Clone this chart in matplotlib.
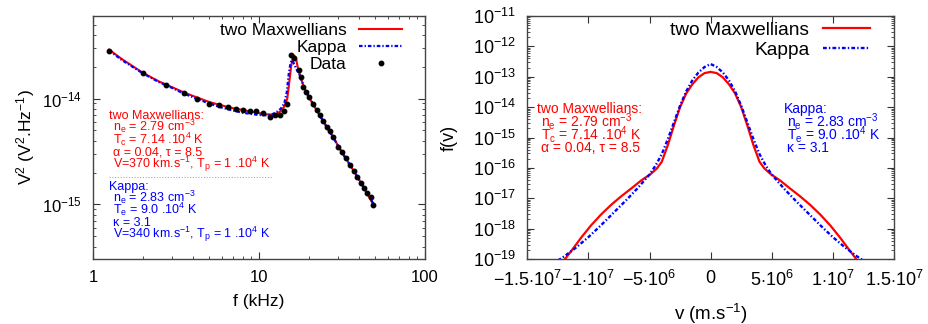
import numpy as np
import matplotlib
matplotlib.use("Agg")
import matplotlib.pyplot as plt
from matplotlib.ticker import LogLocator, FixedLocator, FuncFormatter, NullFormatter

plt.rcParams["font.family"] = ["Liberation Sans", "DejaVu Sans"]
plt.rcParams["mathtext.fontset"] = "custom"
plt.rcParams["mathtext.rm"] = "Liberation Sans"
plt.rcParams["mathtext.it"] = "Liberation Sans"
plt.rcParams["mathtext.bf"] = "Liberation Sans:bold"

# ---------------- left panel: spectrum V^2(f) ----------------
data_f = [1.25, 1.99, 2.75, 3.53, 4.25, 5.02, 5.77, 6.53, 7.27, 8.05, 8.83, 9.55,
          10.5, 11.6, 12.5, 13.4, 14.1, 14.8, 15.5, 16.3, 17.3, 17.8, 18.5, 19.2,
          20.1, 21.1, 22.2, 23.3, 24.4, 25.6, 26.8, 28.1, 30.0, 31.5, 33.4, 35.3,
          37.4, 39.1, 41.0, 42.9, 44.5, 47.1, 48.8]
data_v2 = [2.84e-14, 1.73e-14, 1.35e-14, 1.12e-14, 9.87e-15, 8.9e-15, 8.65e-15,
           8.4e-15, 8.05e-15, 7.88e-15, 7.7e-15, 7.6e-15, 7.27e-15, 6.76e-15,
           7.06e-15, 7.06e-15, 7.7e-15, 8.9e-15, 2.58e-14, 2.44e-14, 1.86e-14,
           1.61e-14, 1.30e-14, 1.16e-14, 1.03e-14, 8.85e-15, 7.82e-15, 7.01e-15,
           6.15e-15, 5.44e-15, 4.95e-15, 4.32e-15, 3.47e-15, 3.16e-15, 2.74e-15,
           2.37e-15, 2.05e-15, 1.81e-15, 1.59e-15, 1.43e-15, 1.28e-15, 1.17e-15,
           9.93e-16]

maxw_f = [1.25, 1.5, 2, 2.5, 3, 3.5, 4, 5, 6, 7, 8, 9, 10, 11, 12, 12.8, 13.5,
          14.2, 14.8, 15.2, 15.6, 16.0, 16.3, 16.7, 17.2, 17.8, 18.5, 19.5, 20.5,
          22, 24, 26, 28, 30, 33, 36, 40, 44, 48.8]
maxw_v2 = [2.9e-14, 2.35e-14, 1.75e-14, 1.45e-14, 1.28e-14, 1.15e-14, 1.06e-14,
           9.3e-15, 8.6e-15, 8.1e-15, 7.8e-15, 7.5e-15, 7.3e-15, 7.1e-15, 7.05e-15,
           7.2e-15, 7.6e-15, 8.4e-15, 1.0e-14, 1.4e-14, 2.0e-14, 2.45e-14, 2.55e-14,
           2.4e-14, 1.9e-14, 1.6e-14, 1.32e-14, 1.1e-14, 9.6e-15, 8.0e-15, 6.4e-15,
           5.2e-15, 4.35e-15, 3.55e-15, 2.8e-15, 2.25e-15, 1.72e-15, 1.33e-15, 1.0e-15]

kappa_f = [1.25, 1.5, 2, 2.5, 3, 3.5, 4, 5, 6, 7, 8, 9, 10, 11, 12, 12.8, 13.5,
           14.2, 14.7, 15.1, 15.5, 15.8, 16.2, 16.8, 17.5, 18.5, 19.5, 20.5, 22,
           24, 26, 28, 30, 33, 36, 40, 44, 48.8]
kappa_v2 = [2.85e-14, 2.3e-14, 1.73e-14, 1.43e-14, 1.26e-14, 1.12e-14, 1.03e-14,
            9.0e-15, 8.2e-15, 7.7e-15, 7.35e-15, 7.15e-15, 7.0e-15, 6.95e-15, 7.1e-15,
            7.5e-15, 8.0e-15, 9.0e-15, 1.15e-14, 1.7e-14, 2.2e-14, 2.3e-14, 2.15e-14,
            1.9e-14, 1.68e-14, 1.35e-14, 1.12e-14, 9.7e-15, 8.0e-15, 6.35e-15, 5.15e-15,
            4.3e-15, 3.55e-15, 2.78e-15, 2.25e-15, 1.72e-15, 1.34e-15, 1.02e-15]

f_ticks = [1, 10, 100]
v2_ticks = [1e-15, 1e-14]

# ---------------- right panel: distribution f(v) ----------------
maxw_v = [-12.0e6, -11.3e6, -10.6e6, -9.8e6, -9.0e6, -8.15e6, -7.3e6, -6.5e6, -5.7e6,
          -4.9e6, -4.4e6, -4.0e6, -3.5e6, -3.0e6, -2.5e6, -2.0e6, -1.5e6, -1.0e6,
          -0.5e6, 0.0, 0.5e6, 1.0e6, 1.5e6, 2.0e6, 2.5e6, 3.0e6, 3.5e6, 4.0e6, 4.4e6,
          4.9e6, 5.7e6, 6.5e6, 7.3e6, 8.15e6, 9.0e6, 9.8e6, 10.6e6, 11.3e6, 12.0e6]
maxw_logf = [-19.05, -18.68, -18.3, -17.9, -17.55, -17.22, -16.93, -16.68, -16.42,
             -16.2, -16.02, -15.8, -15.25, -14.6, -14.0, -13.55, -13.25, -13.02,
             -12.88, -12.84, -12.88, -13.02, -13.25, -13.55, -14.0, -14.6, -15.25,
             -15.8, -16.02, -16.2, -16.42, -16.68, -16.93, -17.22, -17.55, -17.9,
             -18.3, -18.68, -19.05]

kappa_v = [-12.5e6, -12.0e6, -11.0e6, -10.0e6, -9.0e6, -8.0e6, -7.0e6, -6.0e6, -5.5e6,
           -5.0e6, -4.5e6, -4.0e6, -3.5e6, -3.0e6, -2.5e6, -2.0e6, -1.5e6, -1.0e6,
           -0.5e6, 0.0, 0.5e6, 1.0e6, 1.5e6, 2.0e6, 2.5e6, 3.0e6, 3.5e6, 4.0e6, 4.5e6,
           5.0e6, 5.5e6, 6.0e6, 7.0e6, 8.0e6, 9.0e6, 10.0e6, 11.0e6, 12.0e6, 12.5e6]
kappa_logf = [-19.05, -18.92, -18.62, -18.28, -17.9, -17.5, -17.1, -16.68, -16.45,
              -16.22, -15.92, -15.55, -15.05, -14.5, -13.95, -13.48, -13.12, -12.86,
              -12.68, -12.58, -12.68, -12.86, -13.12, -13.48, -13.95, -14.5, -15.05,
              -15.55, -15.92, -16.22, -16.45, -16.68, -17.1, -17.5, -17.9, -18.28,
              -18.62, -18.92, -19.05]

v_ticks = [-1.5e7, -1e7, -5e6, 0, 5e6, 1e7, 1.5e7]
fv_ticks = [1e-19, 1e-18, 1e-17, 1e-16, 1e-15, 1e-14, 1e-13, 1e-12, 1e-11]

maxw_text = ["two Maxwellians:",
             r"n$_{e}$ = 2.79 cm$^{-3}$",
             r"T$_{c}$ = 7.14 .10$^{4}$ K",
             "α = 0.04, τ = 8.5",
             r"V=370 km.s$^{-1}$, T$_{p}$ = 1 .10$^{4}$ K"]
kappa_text = ["Kappa:",
              r"n$_{e}$ = 2.83 cm$^{-3}$",
              r"T$_{e}$ = 9.0 .10$^{4}$ K",
              "κ = 3.1",
              r"V=340 km.s$^{-1}$, T$_{p}$ = 1 .10$^{4}$ K"]

RED = "#ff0000"
BLUE = "#0000ff"
KAPPA_DASH = (0, (1.6, 0.9, 0.6, 0.9))


def sci_dot(x, pos):
    if x == 0:
        return "0"
    exp = int(np.floor(np.log10(abs(x))))
    mant = x / 10 ** exp
    return r"$%s{\cdot}10^{%d}$" % ("%g" % mant, exp)


def block(ax, lines, x0, y0, dy, color, size, indent):
    for i, s in enumerate(lines):
        ax.text(x0 + (indent if i > 0 else 0), y0 - i * dy, s, transform=ax.transAxes,
                color=color, fontsize=size, ha="left", va="baseline")


fig = plt.figure(figsize=(9.29, 3.24), dpi=100)
ax1 = fig.add_axes([0.1001, 0.2006, 0.3574, 0.7500])
ax2 = fig.add_axes([0.5676, 0.2006, 0.3947, 0.7500])

# ---- left ----
ax1.plot(maxw_f, maxw_v2, color=RED, lw=1.5, label="two Maxwellians")
ax1.plot(kappa_f, kappa_v2, color=BLUE, lw=1.6, ls=KAPPA_DASH, label="Kappa")
ax1.plot(data_f, data_v2, "o", color="black", ms=3.2, label="Data")
ax1.set_xscale("log")
ax1.set_yscale("log")
ax1.set_xlim(1, 100)
ax1.set_ylim(3.05e-16, 6.03e-14)
ax1.xaxis.set_major_locator(FixedLocator(f_ticks))
ax1.xaxis.set_major_formatter(FuncFormatter(lambda x, p: "%g" % x))
ax1.xaxis.set_minor_formatter(NullFormatter())
ax1.yaxis.set_major_locator(FixedLocator(v2_ticks))
ax1.yaxis.set_minor_locator(LogLocator(base=10, subs=np.arange(2, 10), numticks=20))
ax1.yaxis.set_minor_formatter(NullFormatter())
ax1.set_xlabel("f (kHz)", fontsize=12.5)
ax1.set_ylabel(r"V$^{2}$ (V$^{2}$.Hz$^{-1}$)", fontsize=12.5)
ax1.xaxis.set_label_coords(0.5, -0.145)
ax1.yaxis.set_label_coords(-0.17, 0.5)
ax1.legend(loc="upper right", bbox_to_anchor=(0.958, 1.008), frameon=False,
           markerfirst=False, fontsize=12.5, handlelength=2.5, handletextpad=0.7,
           labelspacing=0.12, borderpad=0.0, numpoints=1)

block(ax1, maxw_text, 0.048, 0.5755, 0.0503, RED, 9, 0.012)
block(ax1, kappa_text, 0.048, 0.2849, 0.0497, BLUE, 9, 0.012)
ax1.plot([0.048, 0.542], [0.337, 0.337], transform=ax1.transAxes, color="#aaaaaa",
         lw=0.8, ls=(0, (1, 1.5)))

# ---- right ----
ax2.plot(maxw_v, 10.0 ** np.array(maxw_logf), color=RED, lw=1.6, label="two Maxwellians")
ax2.plot(kappa_v, 10.0 ** np.array(kappa_logf), color=BLUE, lw=1.7, ls=KAPPA_DASH,
         label="Kappa")
ax2.set_yscale("log")
ax2.set_xlim(-1.5e7, 1.5e7)
ax2.set_ylim(1e-19, 1e-11)
ax2.xaxis.set_major_locator(FixedLocator(v_ticks))
ax2.xaxis.set_major_formatter(FuncFormatter(sci_dot))
ax2.yaxis.set_major_locator(FixedLocator(fv_ticks))
ax2.yaxis.set_minor_locator(LogLocator(base=10, subs=np.arange(2, 10), numticks=40))
ax2.yaxis.set_minor_formatter(NullFormatter())
ax2.set_xlabel(r"v (m.s$^{-1}$)", fontsize=13.5)
ax2.set_ylabel("f(v)", fontsize=13)
ax2.xaxis.set_label_coords(0.5, -0.175)
ax2.yaxis.set_label_coords(-0.19, 0.5)
ax2.legend(loc="upper right", bbox_to_anchor=(0.962, 1.016), frameon=False,
           markerfirst=False, fontsize=13.8, handlelength=2.5, handletextpad=0.7,
           labelspacing=0.12, borderpad=0.0)

block(ax2, maxw_text[:4], 0.026, 0.600, 0.0534, RED, 10, 0.011)
block(ax2, kappa_text[:4], 0.700, 0.600, 0.0534, BLUE, 10, 0.009)

for ax, size in ((ax1, 12), (ax2, 13)):
    ax.tick_params(which="both", direction="in", top=True, right=True, colors="#333333",
                   labelcolor="black", labelsize=size)
    ax.tick_params(which="major", length=5, width=0.8, pad=8)
    ax.tick_params(which="minor", length=2.5, width=0.6)
    for sp in ax.spines.values():
        sp.set_color("#444444")
        sp.set_linewidth(1.0)

fig.savefig("out.png", dpi=100)
